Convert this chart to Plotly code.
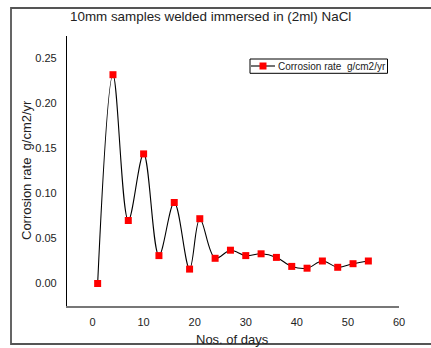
import plotly.graph_objects as go

days = [1, 4, 7, 10, 13, 16, 19, 21, 24, 27, 30, 33, 36, 39, 42, 45, 48, 51, 54]
rate = [0.0, 0.232, 0.070, 0.144, 0.031, 0.090, 0.016, 0.072, 0.028, 0.037, 0.031,
        0.033, 0.029, 0.019, 0.017, 0.025, 0.018, 0.022, 0.025]
x_ticks = [0, 10, 20, 30, 40, 50, 60]
y_ticks = [0.0, 0.05, 0.10, 0.15, 0.20, 0.25]
series_name = "Corrosion rate\u00a0\u00a0g/cm2/yr"

FONT = "Arial, Liberation Sans, sans-serif"
W, H = 431, 348
ML, MR, MT, MB = 67, 32, 36, 42
PW, PH = W - ML - MR, H - MT - MB


def px(x):
    return (x - ML) / PW


def py(y):
    return (H - MB - y) / PH


fig = go.Figure()
fig.add_trace(go.Scatter(
    x=days, y=rate, mode="lines+markers", name=series_name, showlegend=False,
    line=dict(color="black", width=1.1, shape="spline", smoothing=1),
    marker=dict(symbol="square", color="#ff0000", size=7),
))

fig.update_layout(
    width=W, height=H,
    margin=dict(l=ML, r=MR, t=MT, b=MB),
    paper_bgcolor="white", plot_bgcolor="white",
    font=dict(family=FONT, color="#222", size=11),
    xaxis=dict(range=[-5, 60], tickvals=x_ticks, ticktext=[str(v) for v in x_ticks],
               showgrid=False, zeroline=False, showline=True, linecolor="#777",
               linewidth=1.5, ticks="", ticklabelstandoff=5,
               tickfont=dict(size=11, family=FONT, color="#222")),
    yaxis=dict(range=[-0.025, 0.275], tickvals=y_ticks,
               ticktext=["%.2f" % v for v in y_ticks],
               showgrid=False, zeroline=False, showline=True, linecolor="black",
               linewidth=1.2, ticks="", ticklabelstandoff=7,
               tickfont=dict(size=11, family=FONT, color="#222")),
    annotations=[
        dict(text="10mm samples welded immersed in (2ml) NaCl", xref="paper", yref="paper",
             x=px(210), y=py(17), xanchor="center", yanchor="middle",
             showarrow=False, font=dict(size=13.4, family=FONT, color="#222")),
        dict(text="Nos. of days", xref="paper", yref="paper",
             x=px(232), y=py(339.5), xanchor="center", yanchor="middle",
             showarrow=False, font=dict(size=13, family=FONT, color="#222")),
        dict(text="Corrosion rate\u00a0\u00a0g/cm2/yr", xref="paper", yref="paper",
             x=px(26), y=py(170), xanchor="center", yanchor="middle",
             textangle=-90, showarrow=False, font=dict(size=13, family=FONT, color="#222")),
        dict(text=series_name, xref="paper", yref="paper",
             x=px(276), y=py(66), xanchor="left", yanchor="middle",
             showarrow=False, font=dict(size=10, family=FONT, color="#222")),
    ],
    shapes=[
        # legend box
        dict(type="rect", xref="paper", yref="paper",
             x0=px(250), x1=px(387.5), y0=py(73.3), y1=py(59),
             line=dict(color="black", width=1), fillcolor="white", layer="above"),
        dict(type="line", xref="paper", yref="paper",
             x0=px(251), x1=px(275), y0=py(66), y1=py(66),
             line=dict(color="black", width=1.1), layer="above"),
        dict(type="rect", xref="paper", yref="paper",
             x0=px(259.5), x1=px(266.5), y0=py(69.5), y1=py(62.5),
             line=dict(width=0), fillcolor="#ff0000", layer="above"),
        # outer frame
        dict(type="rect", xref="paper", yref="paper",
             x0=px(11), x1=px(445), y0=py(344), y1=py(8),
             line=dict(color="#555", width=1.8), fillcolor="rgba(0,0,0,0)", layer="above"),
    ],
)

fig.write_html("out.html")
